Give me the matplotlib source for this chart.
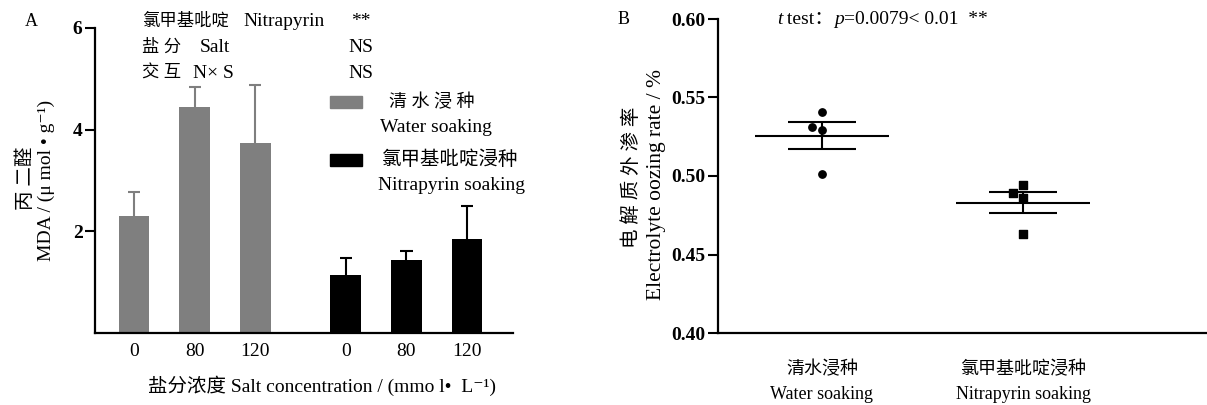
import numpy as np
import matplotlib
matplotlib.use("Agg")
import matplotlib.pyplot as plt
from matplotlib.patches import Rectangle

plt.rcParams['font.family'] = ['Liberation Serif', 'Noto Sans CJK SC', 'DejaVu Serif']

# -------------------------
# Data: panel A (MDA)
# -------------------------
salt_levels = ["0", "80", "120"]
mda_water = [2.31, 4.45, 3.73]
mda_water_err = [0.47, 0.39, 1.15]
mda_nitra = [1.14, 1.43, 1.84]
mda_nitra_err = [0.33, 0.18, 0.65]

# -------------------------
# Data: panel B (electrolyte leakage)
# -------------------------
groups_b = ["清水浸种\nWater soaking", "氯甲基吡啶浸种\nNitrapyrin soaking"]
water_points = [0.541, 0.531, 0.529, 0.501]
nitra_points = [0.494, 0.489, 0.486, 0.463]
water_offsets = [0, -0.05, 0, 0]   # small horizontal jitter seen in the figure
nitra_offsets = [0, -0.05, 0, 0]

W, H = 1207, 405
fig = plt.figure(figsize=(W / 100, H / 100), dpi=100)

def box(l, t, r, b):
    return [l / W, 1 - b / H, (r - l) / W, (b - t) / H]

def fx(x):
    return x / W

def fy(y):
    return 1 - y / H

GRAY = "#7f7f7f"

# ---------- Panel A ----------
ax = fig.add_axes(box(95, 28, 513, 333))
pos_w = np.arange(3)
pos_n = pos_w + 3.5
bw = 0.51
ax.bar(pos_w, mda_water, bw, color=GRAY)
ax.bar(pos_n, mda_nitra, bw, color="black")
# upper error bars only
for pos, vals, errs, c in [(pos_w, mda_water, mda_water_err, GRAY),
                           (pos_n, mda_nitra, mda_nitra_err, "black")]:
    tops = np.array(vals) + np.array(errs)
    ax.vlines(pos, vals, tops, color=c, lw=1.5)
    ax.hlines(tops, pos - 0.1, pos + 0.1, color=c, lw=1.5)
ax.set_xlim(-0.645, 6.26)
ax.set_ylim(0, 6)
ax.set_yticks([2, 4, 6])
ax.set_yticklabels(["2", "4", "6"], fontsize=14, fontweight="bold")
ax.set_xticks(list(pos_w) + list(pos_n))
ax.set_xticklabels(salt_levels * 2, fontsize=14)
ax.tick_params(axis="x", length=0, pad=7)
ax.tick_params(axis="y", length=7, width=1.5, direction="out", pad=2)
for s in ["top", "right"]:
    ax.spines[s].set_visible(False)
for s in ["left", "bottom"]:
    ax.spines[s].set_linewidth(1.6)

fig.text(fx(322), fy(386), "盐分浓度 Salt concentration / (mmo l•  L⁻¹)",
         fontsize=14, va="center", ha="center")
fig.text(fx(25), fy(22), "A", fontsize=13, va="center")
fig.text(fx(26), fy(178), "丙 二醛", fontsize=14, rotation=90, va="center", ha="center")
fig.text(fx(46), fy(180), "MDA / (μ mol • g⁻¹)", fontsize=14, rotation=90, va="center", ha="center")

# ANOVA summary rows
rows = [("氯甲基吡啶", "Nitrapyrin", "**", 243),
        ("盐 分", "Salt", "NS", 200),
        ("交 互", "N× S", "NS", 193)]
for i, (cn, en, sig, xe) in enumerate(rows):
    y = fy(22 + i * 26)
    fig.text(fx(142), y, cn, fontsize=12.5, va="center")
    fig.text(fx(xe), y, en, fontsize=14, va="center")
    fig.text(fx(361), y, sig, fontsize=14, va="center", ha="center")

# legend
fig.patches.append(Rectangle((fx(330), fy(108)), 32 / W, 12 / H, color=GRAY, transform=fig.transFigure))
fig.patches.append(Rectangle((fx(330), fy(166)), 32 / W, 12 / H, color="black", transform=fig.transFigure))
fig.text(fx(432), fy(103), "清 水 浸 种", fontsize=13, va="center", ha="center")
fig.text(fx(380), fy(128), "Water soaking", fontsize=14, va="center")
fig.text(fx(382), fy(160), "氯甲基吡啶浸种", fontsize=14, va="center")
fig.text(fx(378), fy(186), "Nitrapyrin soaking", fontsize=14, va="center")

# ---------- Panel B ----------
bx = fig.add_axes(box(718, 19, 1207, 333))
for i, (pts, offs, mk) in enumerate([(water_points, water_offsets, "o"),
                                     (nitra_points, nitra_offsets, "s")]):
    pts = np.array(pts)
    m = pts.mean()
    sem = pts.std(ddof=1) / np.sqrt(len(pts))
    bx.scatter(i + np.array(offs), pts, marker=mk, s=28, color="black", zorder=3)
    bx.hlines(m, i - 0.335, i + 0.335, color="black", lw=1.5)
    bx.hlines([m - sem, m + sem], i - 0.168, i + 0.168, color="black", lw=1.5)
    bx.vlines(i, m - sem, m + sem, color="black", lw=1.5)
bx.set_xlim(-0.517, 1.915)
bx.set_ylim(0.40, 0.60)
yt = [0.40, 0.45, 0.50, 0.55, 0.60]
bx.set_yticks(yt)
bx.set_yticklabels(["%.2f" % v for v in yt], fontsize=14, fontweight="bold")
bx.set_xticks([0, 1])
bx.set_xticklabels(groups_b, fontsize=13, linespacing=1.6)
bx.tick_params(axis="x", length=0, pad=20)
bx.tick_params(axis="y", length=7, width=1.5, direction="out", pad=2)
for s in ["top", "right"]:
    bx.spines[s].set_visible(False)
for s in ["left", "bottom"]:
    bx.spines[s].set_linewidth(1.6)

fig.text(fx(618), fy(20), "B", fontsize=13, va="center")
fig.text(fx(632), fy(177), "电 解 质 外 渗 率", fontsize=14, rotation=90, va="center", ha="center")
fig.text(fx(656), fy(184), "Electrolyte oozing rate / %", fontsize=15.5, rotation=90, va="center", ha="center")

# title pieces chained one after another (italic t and p)
pieces = [("t", "italic"), (" test：", "normal"), ("p", "italic"),
          ("=0.0079< 0.01  **", "normal")]
prev = fig.text(fx(777), fy(19), pieces[0][0], fontsize=14, style=pieces[0][1], va="center")
for txt, st in pieces[1:]:
    prev = bx.annotate(txt, xy=(1, 0.5), xycoords=prev, va="center", ha="left",
                       fontsize=14, style=st, annotation_clip=False)

fig.savefig("out.png", dpi=100)
